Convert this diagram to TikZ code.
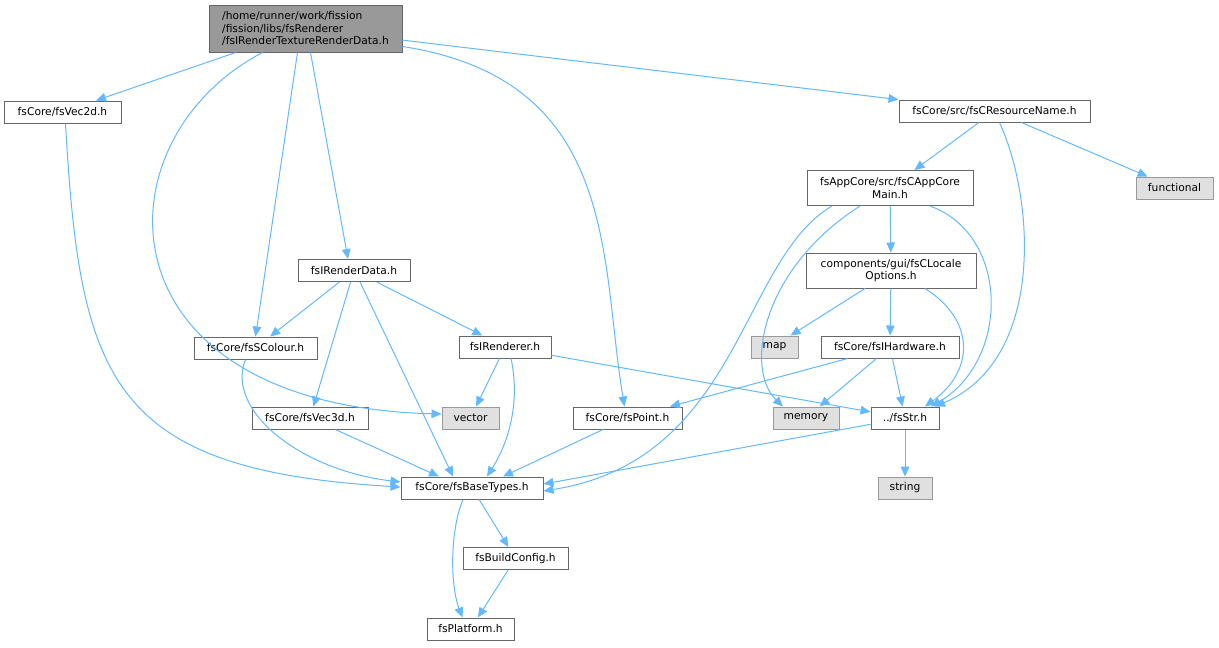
\documentclass[tikz,border=0pt]{standalone}
\usepackage{fontspec}
\setmainfont{DejaVu Sans}
\usetikzlibrary{arrows.meta,calc}
\definecolor{edgeblue}{HTML}{63B8FF}
\definecolor{nodeborder}{HTML}{666666}
\definecolor{rootfill}{HTML}{999999}
\definecolor{extfill}{HTML}{E0E0E0}
\definecolor{extborder}{HTML}{999999}
\begin{document}
\begin{tikzpicture}[x=0.75pt,y=-0.75pt,
  fbox/.style={draw=nodeborder, line width=0.75pt, fill=white, inner sep=0pt,
    minimum height=16.5pt, font=\fontsize{8pt}{9.4pt}\selectfont, align=center},
  wd/.style={minimum width=#1*0.75pt},
  ht/.style={minimum height=#1*0.75pt},
  extbox/.style={fbox, draw=extborder, fill=extfill},
  rootbox/.style={fbox, fill=rootfill, align=left},
  dep/.style={draw=edgeblue, line width=0.75pt, -{Triangle[length=7.5pt,width=6.5pt]}}
]
\useasboundingbox (0,0) rectangle (1219,647);

\node[rootbox, wd=193, ht=47] (root) at (305.5,28.5) {/home/runner/work/fission\\/fission/libs/fsRenderer\\/fsIRenderTextureRenderData.h};
\node[fbox, wd=117] (vec2d) at (62.5,112) {fsCore/fsVec2d.h};
\node[fbox, wd=191] (resname) at (994.5,111) {fsCore/src/fsCResourceName.h};
\node[fbox, wd=166, ht=35] (appmain) at (890,188) {fsAppCore/src/fsCAppCore\\Main.h};
\node[extbox, wd=77] (functional) at (1174.5,188) {functional};
\node[fbox, wd=112] (irdata) at (354,270.5) {fsIRenderData.h};
\node[fbox, wd=170, ht=35] (locale) at (891,270.5) {components/gui/fsCLocale\\Options.h};
\node[fbox, wd=123] (scolour) at (255.5,348) {fsCore/fsSColour.h};
\node[fbox, wd=92] (irenderer) at (505,347) {fsIRenderer.h};
\node[extbox, wd=47] (map) at (774.5,347) {map};
\node[fbox, wd=138] (ihardware) at (890,347) {fsCore/fsIHardware.h};
\node[fbox, wd=116] (vec3d) at (310,418) {fsCore/fsVec3d.h};
\node[extbox, wd=57] (vector) at (470.5,418) {vector};
\node[fbox, wd=109] (point) at (627.5,418) {fsCore/fsPoint.h};
\node[extbox, wd=66] (memory) at (806,418) {memory};
\node[fbox, wd=68] (str) at (905,418) {../fsStr.h};
\node[fbox, wd=142] (basetypes) at (472,488) {fsCore/fsBaseTypes.h};
\node[extbox, wd=54] (string) at (905,488) {string};
\node[fbox, wd=105] (buildconfig) at (515.5,558.5) {fsBuildConfig.h};
\node[fbox, wd=87] (platform) at (470.5,629) {fsPlatform.h};

% root edges
\draw[dep] (root) -- (vec2d);
\draw[dep] ($(root.south)+(-43,0)$) .. controls (95,140) and (95,405) .. ($(vector.west)+(0,-4)$);
\draw[dep] ($(root.south)+(-8,0)$) -- (scolour.north);
\draw[dep] ($(root.south)+(5,0)$) -- ($(irdata.north)+(-6,0)$);
\draw[dep] ($(root.east)+(0,18)$) .. controls (620,80) and (600,260) .. ($(point.north)+(-3,0)$);
\draw[dep] (root) -- (resname);
% vec2d
\draw[dep] ($(vec2d.south)+(3,0)$) .. controls (80,380) and (110,470) .. ($(basetypes.west)+(0,-1)$);
% resname
\draw[dep] (resname) -- (appmain);
\draw[dep] (resname) -- (functional);
\draw[dep] ($(resname.south)+(5,0)$) .. controls (1035,200) and (1045,360) .. ($(str.north)+(30,0)$);
% appmain
\draw[dep] ($(appmain.south)+(-58,0)$) .. controls (740,260) and (740,460) .. ($(basetypes.east)+(0,3)$);
\draw[dep] ($(appmain.south)+(-30,0)$) .. controls (760,270) and (745,370) .. ($(memory.north)+(-23,0)$);
\draw[dep] (appmain) -- (locale);
\draw[dep] ($(appmain.south)+(40,0)$) .. controls (1010,235) and (1010,360) .. ($(str.north)+(26,0)$);
% irdata
\draw[dep] (irdata) -- (scolour);
\draw[dep] (irdata) -- (vec3d);
\draw[dep] ($(irdata.south)+(6,0)$) -- ($(basetypes.north)+(-19,0)$);
\draw[dep] (irdata) -- (irenderer);
% scolour
\draw[dep] ($(scolour.south)+(-10,0)$) .. controls (225,410) and (300,470) .. ($(basetypes.west)+(0,-6)$);
% irenderer
\draw[dep] (irenderer) -- (vector);
\draw[dep] ($(irenderer.south)+(6,0)$) .. controls (520,400) and (510,440) .. ($(basetypes.north)+(15,0)$);
\draw[dep] (irenderer) -- (str);
% locale
\draw[dep] ($(locale.south)+(-26,0)$) -- ($(map.north)+(16,0)$);
\draw[dep] (locale) -- (ihardware);
\draw[dep] ($(locale.south)+(34,0)$) .. controls (975,320) and (975,370) .. ($(str.north)+(20,0)$);
% ihardware
\draw[dep] (ihardware) -- (point);
\draw[dep] (ihardware) -- (memory);
\draw[dep] (ihardware) -- (str);
% lower
\draw[dep] (vec3d) -- ($(basetypes.north)+(-33,0)$);
\draw[dep] (point) -- ($(basetypes.north)+(31,0)$);
\draw[dep] (str) -- ($(basetypes.east)+(0,-4)$);
\draw[dep] (str) -- (string);
\draw[dep] (basetypes) -- (buildconfig);
\draw[dep] ($(basetypes.south)+(-9,0)$) .. controls (450,530) and (450,585) .. ($(platform.north)+(-8,0)$);
\draw[dep] (buildconfig) -- (platform);
\end{tikzpicture}
\end{document}
